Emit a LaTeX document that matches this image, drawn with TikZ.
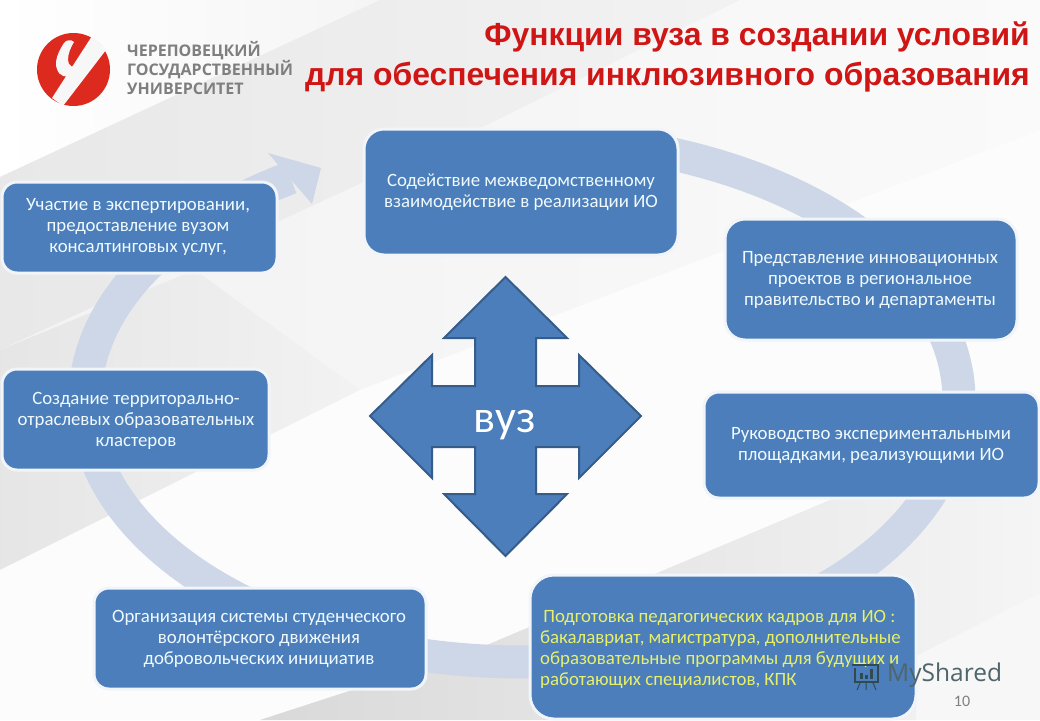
\documentclass[tikz,border=0pt]{standalone}
\usepackage{fontspec}
\setmainfont{Carlito}
\newfontfamily\titlefont{Liberation Sans}
\newfontfamily\logofont{Open Sans}
\usetikzlibrary{shadings}
\definecolor{boxblue}{HTML}{4B7EBA}
\definecolor{arrowedge}{HTML}{365C8A}
\definecolor{ringblue}{HTML}{CDD7E7}
\definecolor{titlered}{HTML}{D01515}
\definecolor{logored}{HTML}{DC2A1E}
\definecolor{logogray}{HTML}{7F7F7F}
\definecolor{wmdark}{HTML}{2F4A52}
\definecolor{yellowtext}{HTML}{E8F06A}
\tikzset{
  card/.style={draw=white!92!boxblue,line width=3pt,fill=boxblue,rounded corners=#1},
  card/.default=15pt,
  cardtext/.style={text=white!94!cyan,font=\fontsize{18.8}{21}\selectfont,align=center,inner sep=0pt},
  band/.style={draw=none}
}
\begin{document}
\begin{tikzpicture}[x=1pt,y=-1pt]
\useasboundingbox (0,0) rectangle (1040,720);
% background
\fill[white!97!black] (0,0) rectangle (1040,720);
\shade[band,left color=white,right color=white!96!black] (0,0) -- (380,0) -- (0,177) -- cycle;
\shade[band,left color=white!91!black,right color=white!95!black] (0,177) -- (380,0) -- (740,0) -- (477,130) -- (0,350) -- cycle;
\shade[band,left color=white!95!black,right color=white!98!black] (0,350) -- (477,130) -- (740,0) -- (1040,0) -- (1040,130) -- (360,390) -- (0,570) -- cycle;
\shade[band,left color=white!90!black,right color=white!95!black] (0,350) -- (195,270) -- (360,390) -- (0,570) -- cycle;
\fill[band,white!99!black] (0,570) -- (360,390) -- (1040,130) -- (1040,410) -- (830,500) -- (475,650) -- (260,720) -- (0,720) -- cycle;
\shade[band,left color=white!85!black,right color=white!96!black] (260,720) -- (475,650) -- (830,500) -- (1040,410) -- (1040,593) -- (916,656) -- (916,720) -- cycle;
% ring
\draw[ringblue,line width=33pt] plot[domain=122:435,samples=140,smooth] ({522+437*cos(\x)},{400-262*sin(\x)});
\fill[ringblue] (321,168) -- (268,153) -- (312,204) -- cycle;
% logo
\fill[logored] (73.5,69.5) circle[radius=36.5];
\fill[white!97!black] (52,98) -- (63,106) -- (106,50) -- (92,36) -- cycle;
\fill[white!97!black] (64,43) .. controls (58,52) and (54,62) .. (57,69) .. controls (59,76) and (66,79) .. (74,74) -- (80,66) .. controls (73,69) and (68,66) .. (68,60) .. controls (68,53) and (71,47) .. (74,42) .. controls (71,39) and (66,40) .. (64,43) -- cycle;
\node[font=\logofont\bfseries\fontsize{16}{19}\selectfont,text=logogray,align=left,anchor=north west,inner sep=0pt] (logo) at (127,41) {ЧЕРЕПОВЕЦКИЙ\\ГОСУДАРСТВЕННЫЙ\\УНИВЕРСИТЕТ};
% title
\node[font=\titlefont\bfseries\fontsize{31.9}{40}\selectfont,text=titlered,align=right,anchor=north east,inner sep=0pt] (title) at (1030,22) {Функции вуза в создании условий\\для обеспечения инклюзивного образования};
% cards
\draw[card=20pt] (364,129) rectangle (678,255);
\node[cardtext] (n1) at (521,192) {Содействие межведомственному\\взаимодействие  в реализации ИО};
\draw[card] (2,182) rectangle (277,273);
\node[cardtext] (n2) at (138,227) {Участие в экспертировании,\\предоставление вузом\\консалтинговых услуг,};
\draw[card=20pt] (725,219) rectangle (1017,340);
\node[cardtext] (n3) at (870,280) {Представление  инновационных\\проектов в региональное\\правительство и департаменты};
\draw[card] (2,369) rectangle (269,470);
\node[cardtext] (n4) at (136,420.5) {Создание территорально-\\отраслевых  образовательных\\кластеров};
\draw[card] (704,392) rectangle (1039,498);
\node[cardtext] (n5) at (871,445.5) {Руководство экспериментальными\\площадками, реализующими ИО};
\draw[card] (94,588) rectangle (426,689);
\node[cardtext] (n6) at (259,639) {Организация системы студенческого\\волонтёрского движения\\добровольческих инициатив};
\draw[card=24pt] (530,575) rectangle (916,719);
\node[cardtext,text=yellowtext,align=left,anchor=west] (n7) at (540,649) {\,Подготовка педагогических кадров для ИО  :\\бакалавриат, магистратура, дополнительные\\образовательные программы для будущих и\\работающих специалистов, КПК};
% cross arrow
\draw[arrowedge,fill=boxblue,line width=2pt,line join=miter] (505.5,277) -- (567,338) -- (536,338) -- (536,386) -- (579,386) -- (579,355) -- (641,416) -- (579,478) -- (579,447) -- (536,447) -- (536,494) -- (567,494) -- (505.5,556) -- (444,494) -- (475,494) -- (475,447) -- (432,447) -- (432,478) -- (370,416) -- (432,355) -- (432,386) -- (475,386) -- (475,338) -- (444,338) -- cycle;
\node[text=white,font=\fontsize{46}{48}\selectfont,inner sep=0pt] (vuz) at (505,425) {вуз};
% watermark
\begin{scope}[wmdark]
\draw[line width=1.6pt] (852,665) -- (878,665) -- (878,682) -- (855,682) -- (855,668);
\fill (860,673) rectangle +(3,6);
\fill (865,675) rectangle +(3,4);
\fill (870,669) rectangle +(3,10);
\draw[line width=1pt] (860,683) -- (857,690) (866,683) -- (866,690) (873,683) -- (876,690);
\end{scope}
\node[font=\logofont\fontsize{24.5}{26}\selectfont,text=wmdark!85,inner sep=0pt,anchor=west] (wm) at (887,675) {MyShared};
\node[font=\fontsize{16}{18}\selectfont,text=gray,inner sep=0pt] (page) at (962,701) {10};
\end{tikzpicture}
\end{document}
